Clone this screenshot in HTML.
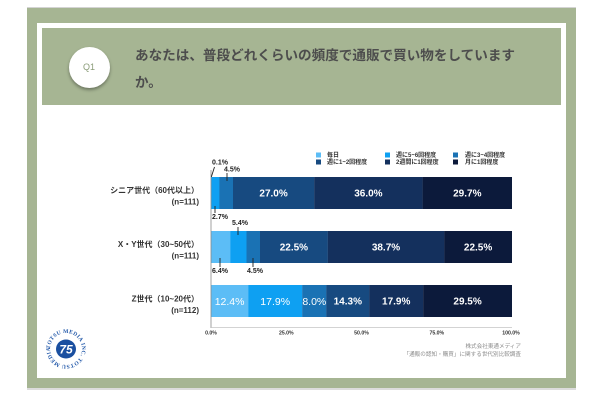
<!DOCTYPE html>
<html><head><meta charset="utf-8">
<style>
html,body{margin:0;padding:0;background:#fff;}
body{width:600px;height:400px;position:relative;overflow:hidden;font-family:"Liberation Sans","Noto Sans CJK JP",sans-serif;}
.abs{position:absolute;}
</style></head>
<body>
<div class="abs" style="left:27px;top:7px;width:549px;height:1px;background:#d4d4d4;"></div>
<div class="abs" style="left:27px;top:8px;width:549px;height:380px;background:#a6b593;"></div>
<div class="abs" style="left:27px;top:388px;width:549px;height:2px;background:#dcdcdc;"></div>
<div class="abs" style="left:37px;top:23px;width:529px;height:355px;background:#fff;"></div>
<div class="abs" style="left:42px;top:28px;width:519px;height:77px;background:#a6b593;"></div>
<div class="abs" style="left:68.5px;top:46.5px;width:41px;height:41px;border-radius:50%;background:#fff;box-shadow:0 2px 3px rgba(0,0,0,0.35);"></div>

<svg class="abs" style="left:0;top:0" width="600" height="400" viewBox="0 0 600 400" xmlns="http://www.w3.org/2000/svg">
  <text x="89" y="70" text-anchor="middle" font-family="Liberation Sans, sans-serif" font-size="9" fill="#8a9c78">Q1</text>
  <g font-family="Liberation Sans, Noto Sans CJK JP, sans-serif" font-weight="bold" font-size="13.5" fill="#4d4d4d">
    <text x="135" y="60" textLength="380" lengthAdjust="spacingAndGlyphs">あなたは、普段どれくらいの頻度で通販で買い物をしています</text>
    <text x="135" y="87">か。</text>
  </g>

  <!-- legend -->
  <g font-family="Liberation Sans, Noto Sans CJK JP, sans-serif" font-weight="bold" font-size="6" fill="#333">
    <rect x="316" y="152.5" width="5" height="5" fill="#5cbdf6"/><text x="327" y="157.2">毎日</text>
    <rect x="316" y="159.5" width="5" height="5" fill="#174a80"/><text x="327" y="164.2">週に1~2回程度</text>
    <rect x="385" y="152.5" width="5" height="5" fill="#0ea0f2"/><text x="396" y="157.2">週に5~6回程度</text>
    <rect x="385" y="159.5" width="5" height="5" fill="#14305d"/><text x="396" y="164.2">2週間に1回程度</text>
    <rect x="453" y="152.5" width="5" height="5" fill="#1a72b4"/><text x="465" y="157.2">週に3~4回程度</text>
    <rect x="453" y="159.5" width="5" height="5" fill="#0c1a3b"/><text x="465" y="164.2">月に1回程度</text>
  </g>

  <!-- bars: senior -->
  <rect x="211" y="177" width="0.4" height="32" fill="#5cbdf6"/>
  <rect x="211.3" y="177" width="8.2" height="32" fill="#0ea0f2"/>
  <rect x="219.4" y="177" width="13.7" height="32" fill="#1a72b4"/>
  <rect x="233" y="177" width="81.3" height="32" fill="#174a80"/>
  <rect x="314.2" y="177" width="108.5" height="32" fill="#14305d"/>
  <rect x="422.6" y="177" width="89.4" height="32" fill="#0c1a3b"/>
  <!-- XY -->
  <rect x="211" y="231" width="19.4" height="32" fill="#5cbdf6"/>
  <rect x="230.3" y="231" width="16.3" height="32" fill="#0ea0f2"/>
  <rect x="246.5" y="231" width="13.6" height="32" fill="#1a72b4"/>
  <rect x="260" y="231" width="67.9" height="32" fill="#174a80"/>
  <rect x="327.8" y="231" width="116.6" height="32" fill="#14305d"/>
  <rect x="444.3" y="231" width="67.7" height="32" fill="#0c1a3b"/>
  <!-- Z -->
  <rect x="211" y="285" width="37.4" height="32" fill="#5cbdf6"/>
  <rect x="248.3" y="285" width="54" height="32" fill="#0ea0f2"/>
  <rect x="302.2" y="285" width="24.2" height="32" fill="#1a72b4"/>
  <rect x="326.3" y="285" width="43.1" height="32" fill="#174a80"/>
  <rect x="369.3" y="285" width="54" height="32" fill="#14305d"/>
  <rect x="423.2" y="285" width="88.8" height="32" fill="#0c1a3b"/>

  <!-- axes -->
  <line x1="211" y1="170" x2="211" y2="328" stroke="#8a8a8a" stroke-width="0.8"/>
  <line x1="211" y1="327.5" x2="512" y2="327.5" stroke="#c4c4c4" stroke-width="0.8"/>

  <!-- inner labels -->
  <g font-family="Liberation Sans, sans-serif" font-weight="bold" font-size="10" fill="#fff" text-anchor="middle">
    <text x="273.6" y="196.5">27.0%</text>
    <text x="368.4" y="196.5">36.0%</text>
    <text x="467.3" y="196.5">29.7%</text>
    <text x="293.9" y="250.5">22.5%</text>
    <text x="386" y="250.5">38.7%</text>
    <text x="478.1" y="250.5">22.5%</text>
    <text x="467.6" y="304.5">29.5%</text>
    <text x="396.2" y="304.5">17.9%</text>
    <text x="347.8" y="304.5">14.3%</text>
  </g>
  <g font-family="Liberation Sans, sans-serif" font-size="10.5" fill="#fff" text-anchor="middle">
    <text x="229.6" y="304.8">12.4%</text>
    <text x="275.2" y="304.8">17.9%</text>
    <text x="314.3" y="304.8">8.0%</text>
  </g>

  <!-- outer small labels -->
  <g font-family="Liberation Sans, sans-serif" font-weight="bold" font-size="7" fill="#222">
    <text x="212" y="164.5">0.1%</text>
    <text x="224" y="171.5">4.5%</text>
    <text x="212" y="219">2.7%</text>
    <text x="232" y="225">5.4%</text>
    <text x="212" y="273">6.4%</text>
    <text x="247" y="273">4.5%</text>
  </g>
  <g stroke="#222" stroke-width="0.9">
    <line x1="214.5" y1="167" x2="211.3" y2="177"/>
    <line x1="227" y1="173" x2="227" y2="181"/>
    <line x1="215" y1="206" x2="215" y2="213"/>
    <line x1="238" y1="227" x2="238" y2="235"/>
    <line x1="220" y1="258" x2="220" y2="267"/>
    <line x1="253" y1="258" x2="253" y2="267"/>
  </g>

  <!-- tick labels -->
  <g font-family="Liberation Sans, sans-serif" font-weight="bold" font-size="5.2" fill="#333" text-anchor="middle">
    <text x="211" y="334.5">0.0%</text>
    <text x="286.3" y="334.5">25.0%</text>
    <text x="361.5" y="334.5">50.0%</text>
    <text x="436.8" y="334.5">75.0%</text>
    <text x="511" y="334.5">100.0%</text>
  </g>

  <!-- category labels -->
  <g font-family="Liberation Sans, Noto Sans CJK JP, sans-serif" font-weight="bold" font-size="8" fill="#333" text-anchor="end">
    <text x="199" y="193">シニア世代（60代以上）</text>
    <text x="199" y="204.5">(n=111)</text>
    <text x="199" y="247">X・Y世代（30~50代）</text>
    <text x="199" y="258.5">(n=111)</text>
    <text x="199" y="301.5">Z世代（10~20代）</text>
    <text x="199" y="313">(n=112)</text>
  </g>

  <!-- source -->
  <g font-family="Liberation Sans, Noto Sans CJK JP, sans-serif" font-size="5.6" fill="#8c8c8c" text-anchor="end">
    <text x="521" y="348">株式会社東通メディア</text>
    <text x="521" y="356">「通販の認知・購買」に関する世代別比較調査</text>
  </g>

  <!-- logo -->
  <defs>
    <path id="lc" d="M66,349 m-16,0 a16,16 0 1,1 32,0 a16,16 0 1,1 -32,0"/>
  </defs>
  <text font-family="Liberation Serif, serif" font-weight="bold" font-size="5.6" fill="#1f56a8" letter-spacing="0.3">
    <textPath href="#lc">TOTSU MEDIA INC. TOTSU MEDIA INC.</textPath>
  </text>
  <ellipse cx="66" cy="349" rx="10" ry="9.5" fill="#1a4fa0"/>
  <text x="66" y="353.5" text-anchor="middle" font-family="Liberation Sans, sans-serif" font-weight="bold" font-style="italic" font-size="12" fill="#fff">75</text>
</svg>
</body></html>
